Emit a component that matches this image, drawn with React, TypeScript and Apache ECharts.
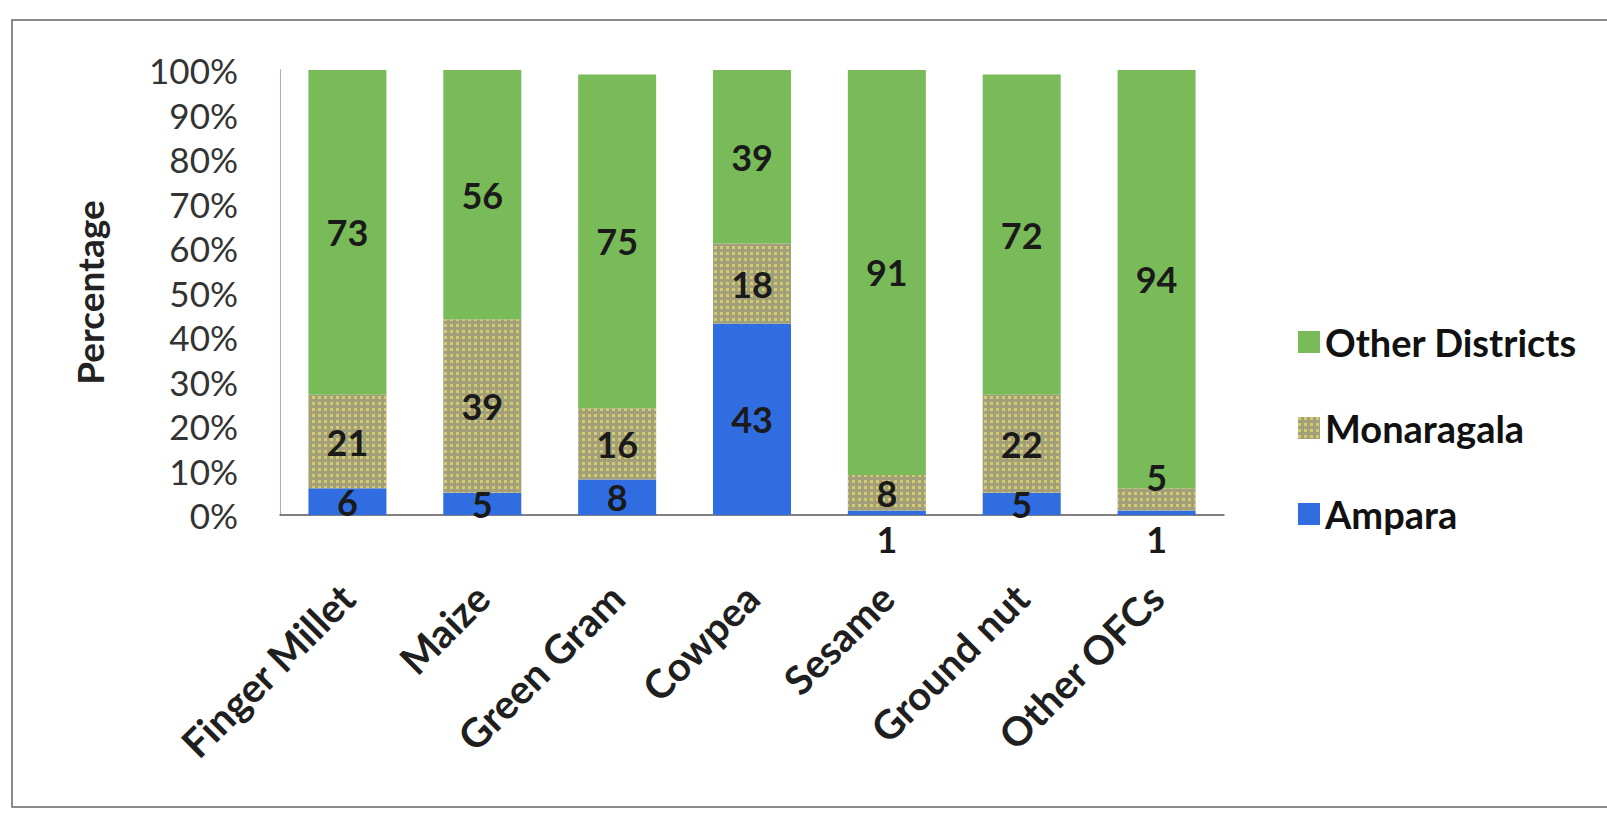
import React, { useEffect, useRef } from "react";
import * as echarts from "echarts";

const categories = ["Finger Millet", "Maize", "Green Gram", "Cowpea", "Sesame", "Ground nut", "Other OFCs"];
const ampara = [6, 5, 8, 43, 1, 5, 1];
const monaragala = [21, 39, 16, 18, 8, 22, 5];
const otherDistricts = [73, 56, 75, 39, 91, 72, 94];
const seriesNames = ["Ampara", "Monaragala", "Other Districts"];
const legendOrder = ["Other Districts", "Monaragala", "Ampara"];

const FONT = "Lato, 'Noto Sans', sans-serif";

export default function App() {
  const ref = useRef<HTMLDivElement>(null);
  useEffect(() => {
    if (!ref.current) return;
    const chart = echarts.init(ref.current, null, { renderer: "svg" });
    const labelBase = {
      show: true,
      position: "inside",
      fontFamily: FONT,
      fontWeight: "bold",
      fontSize: 36,
      lineHeight: 28,
      color: "#1a1a1a",
    };
    const amparaData = ampara.map((v) => (v <= 2 ? { value: v, label: { offset: [0, 26] } } : v));
    const monaData = monaragala.map((v) => (v <= 5 ? { value: v, label: { offset: [0, -22] } } : v));
    chart.setOption({
      animation: false,
      backgroundColor: "#ffffff",
      graphic: [
        {
          type: "rect",
          shape: { x: 12, y: 20, width: 1620, height: 787 },
          style: { fill: "none", stroke: "#666", lineWidth: 1.5 },
          z: -1,
        },
      ],
      grid: { left: 280, right: 383, top: 70, bottom: 305, containLabel: false },
      legend: {
        data: legendOrder,
        orient: "vertical",
        left: 1293,
        top: 317,
        itemWidth: 22,
        itemHeight: 22,
        itemGap: 46,
        icon: "rect",
        textStyle: { fontFamily: FONT, fontWeight: "bold", fontSize: 38, color: "#111", lineHeight: 40 },
      },
      xAxis: {
        type: "category",
        data: categories,
        axisLine: { show: true, lineStyle: { color: "#555", width: 1.5 } },
        axisTick: { show: false },
        axisLabel: {
          rotate: 45,
          margin: 76,
          interval: 0,
          fontFamily: FONT,
          fontWeight: "bold",
          fontSize: 40,
          color: "#1f1f1f",
        },
      },
      yAxis: {
        type: "value",
        min: 0,
        max: 100,
        interval: 10,
        name: "Percentage",
        nameLocation: "middle",
        nameGap: 172,
        nameRotate: 90,
        nameTextStyle: { fontFamily: FONT, fontWeight: "bold", fontSize: 37, color: "#222" },
        axisLine: { show: true, lineStyle: { color: "#8aa0c0", width: 1, type: "dotted" } },
        axisTick: { show: false },
        splitLine: { show: false },
        axisLabel: {
          formatter: "{value}%",
          margin: 42,
          fontFamily: FONT,
          fontSize: 35,
          color: "#333",
        },
      },
      series: [
        {
          name: seriesNames[0],
          type: "bar",
          stack: "total",
          barWidth: 78,
          data: amparaData,
          itemStyle: { color: "#2f6de0" },
          label: labelBase,
        },
        {
          name: seriesNames[1],
          type: "bar",
          stack: "total",
          barWidth: 78,
          data: monaData,
          itemStyle: {
            color: "#a39f78",
            decal: {
              symbol: "rect",
              color: "rgba(240,232,110,0.6)",
              dashArrayX: [3, 3],
              dashArrayY: [3, 3],
              symbolSize: 1,
              rotation: 0,
            },
          },
          label: labelBase,
        },
        {
          name: seriesNames[2],
          type: "bar",
          stack: "total",
          barWidth: 78,
          data: otherDistricts,
          itemStyle: { color: "#79bb58" },
          label: labelBase,
        },
      ],
    });
    return () => chart.dispose();
  }, []);
  return (
    <div
      ref={ref}
      style={{ position: "fixed", left: 0, top: 0, width: 1607, height: 820, background: "#fff" }}
    />
  );
}
